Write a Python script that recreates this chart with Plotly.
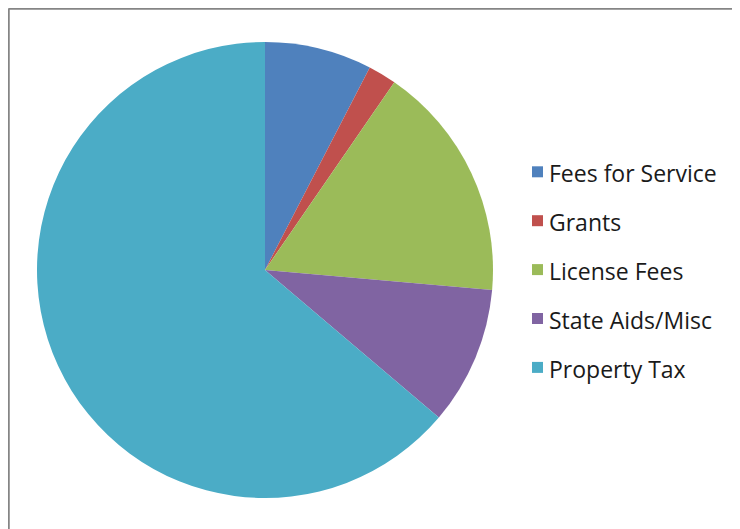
import plotly.graph_objects as go

labels = ["Fees for Service", "Grants", "License Fees", "State Aids/Misc", "Property Tax"]
values = [7.6, 2.0, 16.8, 9.8, 63.8]
colors = ["#4F81BD", "#C0504D", "#9BBB59", "#8064A2", "#4BACC6"]

W, H = 740, 529
OFF = 8  # page body margin


def px(x):
    return (x - OFF) / W


def py(y):
    return 1 - (y - OFF) / H


fig = go.Figure(go.Pie(
    labels=labels, values=values, sort=False, direction="clockwise", rotation=0,
    marker=dict(colors=colors, line=dict(width=0)),
    textinfo="none", hoverinfo="label+percent", showlegend=False,
    domain=dict(x=[px(37), px(493)], y=[py(498), py(42)]),
))

shapes = [
    dict(type="line", xref="paper", yref="paper", x0=px(8.5), x1=1.0, y0=py(8.5), y1=py(8.5),
         line=dict(color="#858585", width=2.5)),
    dict(type="line", xref="paper", yref="paper", x0=px(8.5), x1=px(8.5), y0=0, y1=py(8.5),
         line=dict(color="#858585", width=2.5)),
]
annotations = []
y0, dy = 171.8, 48.9
for i, (lab, col) in enumerate(zip(labels, colors)):
    yc = y0 + i * dy
    shapes.append(dict(type="rect", xref="paper", yref="paper",
                       x0=px(532), x1=px(543), y0=py(yc + 5.5), y1=py(yc - 5.5),
                       fillcolor=col, line=dict(width=0)))
    annotations.append(dict(xref="paper", yref="paper", x=px(547), y=py(yc + 1.5),
                            text=lab, showarrow=False, xanchor="left", yanchor="middle",
                            font=dict(family="Open Sans", size=23, color="#1a1a1a")))

fig.update_layout(
    width=W, height=H, margin=dict(l=0, r=0, t=0, b=0),
    paper_bgcolor="white", plot_bgcolor="white",
    shapes=shapes, annotations=annotations,
)
fig.write_html("out.html")
